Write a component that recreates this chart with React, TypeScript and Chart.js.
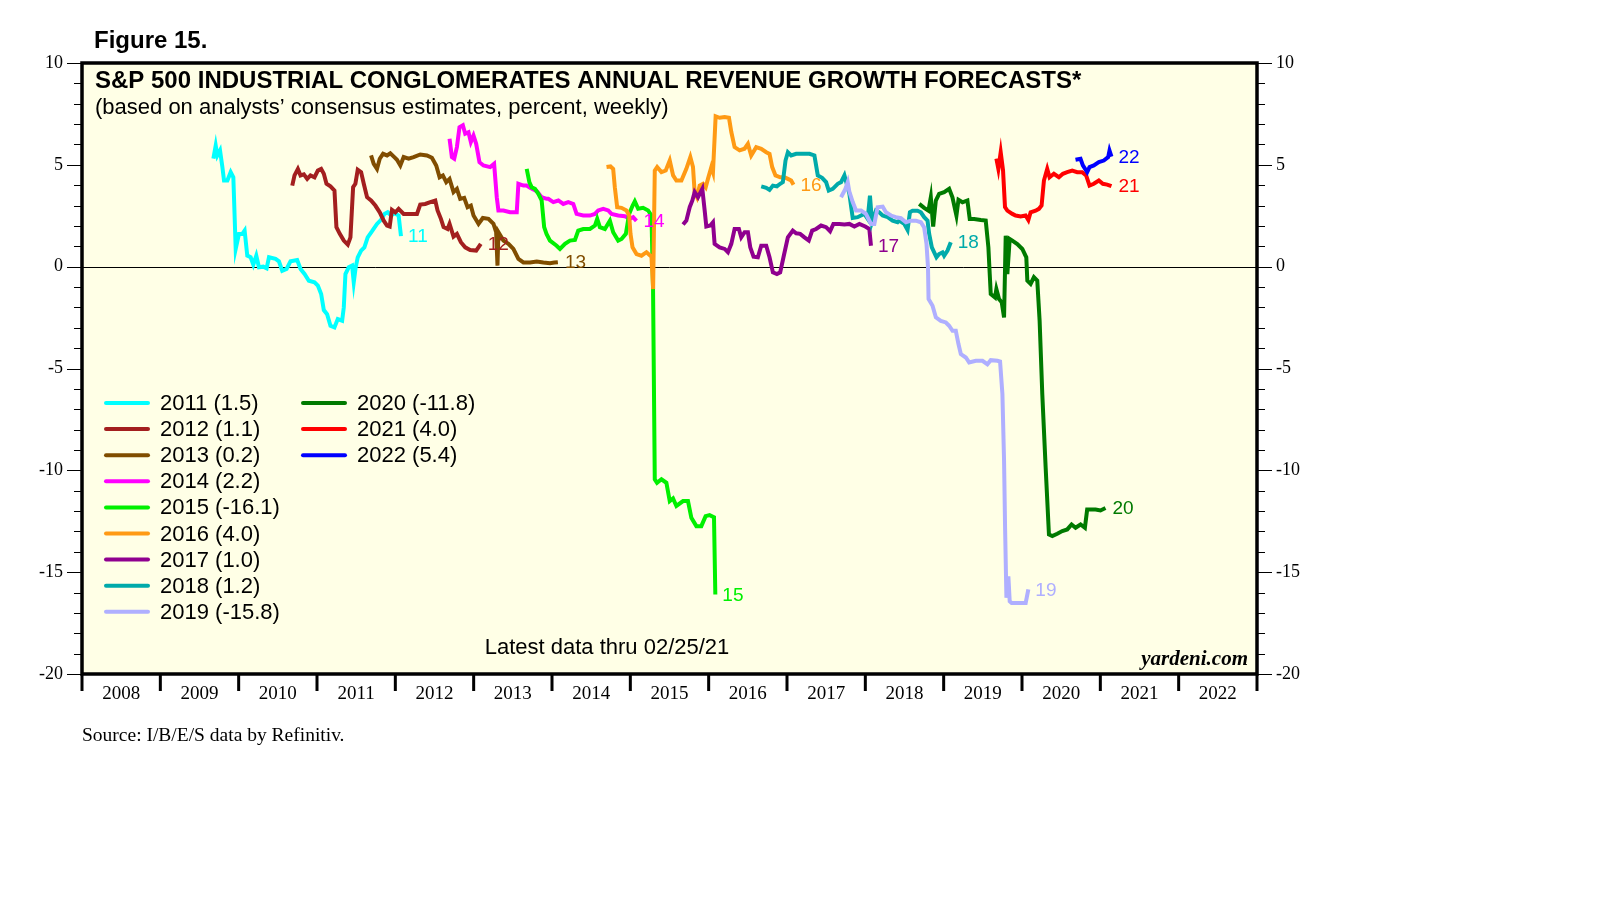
import React, { useRef, useEffect } from 'react';
import { Chart, registerables, Plugin } from 'chart.js';

Chart.register(...registerables);

// Axis labels
const years = [2008, 2009, 2010, 2011, 2012, 2013, 2014, 2015, 2016, 2017, 2018, 2019, 2020, 2021, 2022];
const yMajorTicks = [10, 5, 0, -5, -10, -15, -20];

// Forecast series (x = fractional year, y = percent)
const seriesYears = ['2011', '2012', '2013', '2014', '2015', '2016', '2017', '2018', '2019', '2020', '2021', '2022'];
const endLabels = ['11', '12', '13', '14', '15', '16', '17', '18', '19', '20', '21', '22'];
const latestValues = [1.5, 1.1, 0.2, 2.2, -16.1, 4.0, 1.0, 1.2, -15.8, -11.8, 4.0, 5.4];
const seriesColors = [
  '#00FFFF', '#A31F1F', '#804D00', '#FF00FF', '#00F000', '#FF9A14',
  '#8F008F', '#00AAAA', '#AFAFFF', '#007A00', '#FF0000', '#0000FF',
];

const fc2011: [number, number][] = [
  [2009.677, 5.30], [2009.707, 5.95], [2009.728, 5.46], [2009.762, 5.71], [2009.792, 4.89], [2009.813, 4.23],
  [2009.856, 4.23], [2009.898, 4.64], [2009.932, 4.39], [2009.962, 0.87], [2010.004, 1.61], [2010.047, 1.61],
  [2010.076, 1.77], [2010.110, 0.54], [2010.153, 0.46], [2010.187, 0.10], [2010.225, 0.54], [2010.259, -0.03],
  [2010.314, 0.00], [2010.357, -0.08], [2010.387, 0.46], [2010.471, 0.38], [2010.514, 0.26], [2010.556, -0.20],
  [2010.612, -0.11], [2010.662, 0.26], [2010.747, 0.33], [2010.790, -0.11], [2010.841, -0.36], [2010.896, -0.69],
  [2010.968, -0.77], [2011.011, -0.93], [2011.053, -1.34], [2011.087, -2.13], [2011.129, -2.33], [2011.172, -2.90],
  [2011.223, -2.98], [2011.265, -2.57], [2011.321, -2.65], [2011.342, -2.00], [2011.363, -0.36], [2011.405, -0.03],
  [2011.448, 0.05], [2011.469, -0.77], [2011.494, -0.03], [2011.520, 0.46], [2011.563, 0.79], [2011.605, 0.95],
  [2011.647, 1.44], [2011.703, 1.74], [2011.766, 2.10], [2011.817, 2.30], [2011.860, 2.59], [2011.902, 2.67],
  [2011.945, 2.51], [2011.987, 2.62], [2012.042, 2.51], [2012.072, 1.50],
];

const fc2012: [number, number][] = [
  [2010.684, 3.98], [2010.713, 4.48], [2010.756, 4.80], [2010.790, 4.48], [2010.832, 4.53], [2010.875, 4.31],
  [2010.917, 4.48], [2010.968, 4.39], [2011.011, 4.72], [2011.053, 4.80], [2011.087, 4.56], [2011.121, 4.07],
  [2011.172, 3.94], [2011.223, 3.74], [2011.248, 1.94], [2011.291, 1.61], [2011.342, 1.28], [2011.393, 1.08],
  [2011.427, 1.44], [2011.461, 3.90], [2011.490, 4.07], [2011.520, 4.76], [2011.563, 4.64], [2011.597, 4.07],
  [2011.639, 3.41], [2011.690, 3.25], [2011.745, 3.00], [2011.801, 2.67], [2011.852, 2.26], [2011.894, 2.02],
  [2011.928, 1.97], [2011.957, 2.79], [2012.000, 2.67], [2012.042, 2.84], [2012.106, 2.59], [2012.191, 2.59],
  [2012.276, 2.59], [2012.318, 3.05], [2012.382, 3.08], [2012.446, 3.17], [2012.510, 3.25], [2012.539, 2.76],
  [2012.582, 2.35], [2012.616, 1.94], [2012.667, 1.85], [2012.692, 2.10], [2012.743, 1.48], [2012.786, 1.61],
  [2012.837, 1.20], [2012.892, 0.95], [2012.955, 0.82], [2013.032, 0.79], [2013.091, 1.12],
];

const fc2013: [number, number][] = [
  [2011.690, 5.46], [2011.724, 5.05], [2011.766, 4.80], [2011.801, 5.30], [2011.843, 5.54], [2011.894, 5.46],
  [2011.936, 5.57], [2011.987, 5.38], [2012.021, 5.25], [2012.064, 4.97], [2012.106, 5.38], [2012.170, 5.30],
  [2012.233, 5.38], [2012.318, 5.51], [2012.403, 5.46], [2012.467, 5.35], [2012.522, 4.97], [2012.565, 4.39],
  [2012.607, 4.48], [2012.650, 4.15], [2012.692, 4.31], [2012.743, 3.66], [2012.786, 3.82], [2012.828, 3.33],
  [2012.879, 3.38], [2012.922, 2.92], [2012.964, 3.00], [2012.998, 2.51], [2013.062, 2.10], [2013.117, 2.39],
  [2013.189, 2.35], [2013.253, 2.10], [2013.287, 1.69], [2013.304, 0.05], [2013.316, 1.69], [2013.380, 1.28],
  [2013.444, 1.12], [2013.507, 0.87], [2013.571, 0.38], [2013.635, 0.21], [2013.720, 0.21], [2013.805, 0.25],
  [2013.890, 0.20], [2013.975, 0.17], [2014.030, 0.20], [2014.075, 0.22],
];

const fc2014: [number, number][] = [
  [2012.692, 6.28], [2012.722, 5.38], [2012.752, 5.30], [2012.786, 5.87], [2012.819, 6.85], [2012.862, 6.94],
  [2012.892, 6.53], [2012.934, 6.60], [2012.964, 6.12], [2012.998, 6.44], [2013.032, 6.03], [2013.074, 5.13],
  [2013.125, 4.97], [2013.211, 4.89], [2013.261, 5.05], [2013.295, 3.41], [2013.316, 2.76], [2013.380, 2.76],
  [2013.465, 2.67], [2013.550, 2.67], [2013.571, 4.07], [2013.635, 3.98], [2013.677, 3.98], [2013.720, 3.87],
  [2013.805, 3.71], [2013.868, 3.41], [2013.932, 3.33], [2013.953, 3.33], [2014.017, 3.17], [2014.081, 3.25],
  [2014.144, 3.08], [2014.208, 3.17], [2014.272, 3.08], [2014.314, 2.59], [2014.399, 2.51], [2014.484, 2.51],
  [2014.548, 2.59], [2014.590, 2.76], [2014.654, 2.84], [2014.718, 2.76], [2014.760, 2.59], [2014.845, 2.51],
  [2014.930, 2.48], [2014.994, 2.35], [2015.036, 2.43], [2015.078, 2.25],
];

const fc2015: [number, number][] = [
  [2013.677, 4.80], [2013.711, 4.15], [2013.741, 3.90], [2013.783, 3.82], [2013.826, 3.58], [2013.868, 3.25],
  [2013.900, 1.94], [2013.930, 1.61], [2013.974, 1.28], [2014.059, 1.03], [2014.102, 0.87], [2014.166, 1.12],
  [2014.229, 1.28], [2014.293, 1.31], [2014.335, 1.77], [2014.399, 1.85], [2014.484, 1.85], [2014.548, 2.02],
  [2014.577, 2.35], [2014.611, 1.94], [2014.675, 1.85], [2014.739, 2.26], [2014.781, 1.69], [2014.845, 1.28],
  [2014.888, 1.36], [2014.943, 1.61], [2014.985, 2.59], [2015.028, 2.99], [2015.057, 3.21], [2015.100, 2.84],
  [2015.163, 2.89], [2015.227, 2.76], [2015.270, 2.51], [2015.290, -1.10], [2015.312, -10.44], [2015.341, -10.61],
  [2015.397, -10.44], [2015.460, -10.61], [2015.503, -11.51], [2015.545, -11.38], [2015.588, -11.75], [2015.673, -11.51],
  [2015.736, -11.51], [2015.779, -12.33], [2015.843, -12.74], [2015.906, -12.74], [2015.961, -12.25], [2016.012, -12.20],
  [2016.068, -12.30], [2016.085, -16.10],
];

const fc2016: [number, number][] = [
  [2014.696, 4.89], [2014.747, 4.92], [2014.781, 4.80], [2014.802, 3.90], [2014.832, 2.92], [2014.887, 2.89],
  [2014.951, 2.76], [2014.985, 2.51], [2015.002, 1.61], [2015.028, 0.95], [2015.079, 0.62], [2015.142, 0.54],
  [2015.206, 0.71], [2015.270, 0.49], [2015.291, -1.10], [2015.312, 4.72], [2015.342, 4.89], [2015.397, 4.64],
  [2015.452, 4.72], [2015.503, 5.21], [2015.546, 4.48], [2015.588, 4.23], [2015.652, 4.23], [2015.715, 4.80],
  [2015.766, 5.38], [2015.800, 4.89], [2015.821, 3.66], [2015.851, 3.41], [2015.885, 3.98], [2015.928, 4.07],
  [2015.962, 3.90], [2015.991, 4.31], [2016.034, 4.89], [2016.055, 4.64], [2016.089, 7.38], [2016.140, 7.31],
  [2016.204, 7.35], [2016.259, 7.31], [2016.289, 6.61], [2016.331, 5.87], [2016.395, 5.71], [2016.458, 5.79],
  [2016.501, 6.03], [2016.543, 5.46], [2016.607, 5.87], [2016.671, 5.79], [2016.735, 5.62], [2016.777, 5.54],
  [2016.811, 4.89], [2016.853, 4.48], [2016.913, 4.39], [2016.968, 4.39], [2017.011, 4.31], [2017.053, 4.23],
  [2017.083, 4.02],
];

const fc2017: [number, number][] = [
  [2015.673, 2.07], [2015.715, 2.26], [2015.758, 2.92], [2015.792, 3.25], [2015.821, 3.66], [2015.864, 3.41],
  [2015.919, 3.82], [2015.949, 2.76], [2015.970, 1.97], [2016.021, 2.02], [2016.055, 2.18], [2016.076, 1.12],
  [2016.140, 0.95], [2016.204, 0.87], [2016.246, 0.71], [2016.289, 1.12], [2016.331, 1.85], [2016.386, 1.85],
  [2016.416, 1.44], [2016.459, 1.69], [2016.501, 1.69], [2016.531, 0.95], [2016.573, 0.49], [2016.628, 0.46],
  [2016.671, 1.03], [2016.735, 1.03], [2016.777, 0.46], [2016.820, -0.28], [2016.871, -0.36], [2016.913, -0.28],
  [2016.955, 0.46], [2017.011, 1.44], [2017.074, 1.77], [2017.117, 1.64], [2017.168, 1.61], [2017.223, 1.44],
  [2017.278, 1.28], [2017.321, 1.77], [2017.372, 1.85], [2017.435, 2.02], [2017.499, 1.94], [2017.550, 1.74],
  [2017.592, 2.10], [2017.669, 2.10], [2017.733, 2.07], [2017.796, 2.10], [2017.860, 1.97], [2017.924, 2.10],
  [2017.999, 1.97], [2018.051, 1.85], [2018.072, 1.03],
];

const fc2018: [number, number][] = [
  [2016.671, 3.94], [2016.735, 3.87], [2016.777, 3.77], [2016.820, 3.98], [2016.871, 3.94], [2016.913, 4.07],
  [2016.947, 4.15], [2016.981, 5.21], [2017.011, 5.62], [2017.053, 5.46], [2017.117, 5.54], [2017.202, 5.54],
  [2017.287, 5.54], [2017.350, 5.46], [2017.393, 4.48], [2017.448, 4.36], [2017.499, 4.15], [2017.533, 3.74],
  [2017.584, 3.82], [2017.648, 4.07], [2017.690, 4.15], [2017.733, 4.48], [2017.762, 4.07], [2017.796, 3.58],
  [2017.839, 2.39], [2017.902, 2.43], [2017.945, 2.51], [2017.987, 2.59], [2018.030, 2.35], [2018.059, 3.49],
  [2018.085, 2.18], [2018.136, 2.76], [2018.178, 2.67], [2018.221, 2.51], [2018.285, 2.43], [2018.348, 2.26],
  [2018.412, 2.18], [2018.433, 2.26], [2018.496, 2.10], [2018.539, 1.80], [2018.569, 2.67], [2018.603, 2.75],
  [2018.666, 2.75], [2018.709, 2.67], [2018.751, 2.43], [2018.794, 2.26], [2018.815, 1.61], [2018.849, 0.95],
  [2018.879, 0.70], [2018.908, 0.46], [2018.942, 0.62], [2018.985, 0.70], [2019.006, 0.54], [2019.049, 0.79],
  [2019.091, 1.20],
];

const fc2019: [number, number][] = [
  [2017.690, 3.41], [2017.745, 3.82], [2017.775, 4.15], [2017.796, 3.69], [2017.839, 3.17], [2017.881, 2.76],
  [2017.945, 2.76], [2018.008, 2.59], [2018.072, 2.10], [2018.115, 2.10], [2018.157, 2.92], [2018.221, 2.95],
  [2018.263, 2.67], [2018.327, 2.51], [2018.390, 2.43], [2018.454, 2.38], [2018.518, 2.18], [2018.582, 2.26],
  [2018.645, 2.26], [2018.709, 2.18], [2018.751, 1.93], [2018.781, 1.11], [2018.800, -0.03], [2018.807, -1.59],
  [2018.858, -1.92], [2018.900, -2.49], [2018.964, -2.66], [2019.028, -2.74], [2019.070, -2.90], [2019.113, -3.15],
  [2019.155, -3.15], [2019.189, -3.80], [2019.219, -4.29], [2019.283, -4.46], [2019.325, -4.70], [2019.410, -4.62],
  [2019.495, -4.62], [2019.558, -4.79], [2019.601, -4.59], [2019.686, -4.62], [2019.720, -4.66], [2019.750, -6.26],
  [2019.771, -9.54], [2019.784, -12.82], [2019.801, -16.26], [2019.826, -15.20], [2019.843, -16.43], [2019.868, -16.51],
  [2019.941, -16.51], [2020.004, -16.51], [2020.047, -16.51], [2020.081, -15.85],
];

const fc2020: [number, number][] = [
  [2018.688, 3.08], [2018.751, 2.89], [2018.806, 2.75], [2018.836, 3.41], [2018.866, 1.97], [2018.900, 3.25],
  [2018.942, 3.57], [2019.006, 3.66], [2019.070, 3.82], [2019.112, 3.41], [2019.163, 2.51], [2019.189, 3.28],
  [2019.240, 3.16], [2019.303, 3.25], [2019.333, 2.34], [2019.389, 2.34], [2019.474, 2.29], [2019.537, 2.26],
  [2019.571, 0.95], [2019.588, -0.36], [2019.601, -1.34], [2019.656, -1.51], [2019.673, -1.10], [2019.707, -1.59],
  [2019.741, -1.75], [2019.771, -2.49], [2019.792, 1.52], [2019.813, -0.36], [2019.843, 1.36], [2019.877, 1.28],
  [2019.940, 1.11], [2020.004, 0.87], [2020.055, 0.46], [2020.068, -0.69], [2020.110, -0.85], [2020.152, -0.52],
  [2020.195, -0.69], [2020.225, -2.66], [2020.259, -6.26], [2020.302, -9.87], [2020.344, -13.15], [2020.387, -13.23],
  [2020.450, -13.11], [2020.514, -12.98], [2020.578, -12.90], [2020.633, -12.66], [2020.684, -12.82], [2020.748, -12.66],
  [2020.803, -12.82], [2020.832, -11.92], [2020.875, -11.92], [2020.939, -11.92], [2021.002, -11.97], [2021.066, -11.85],
];

const fc2021: [number, number][] = [
  [2019.673, 5.30], [2019.698, 4.80], [2019.728, 5.62], [2019.758, 4.72], [2019.783, 2.92], [2019.813, 2.75],
  [2019.877, 2.59], [2019.919, 2.51], [2019.983, 2.46], [2020.046, 2.51], [2020.081, 2.29], [2020.110, 2.67],
  [2020.174, 2.75], [2020.216, 2.84], [2020.250, 3.00], [2020.280, 4.23], [2020.322, 4.80], [2020.352, 4.39],
  [2020.407, 4.56], [2020.471, 4.39], [2020.522, 4.56], [2020.577, 4.64], [2020.641, 4.72], [2020.705, 4.64],
  [2020.768, 4.64], [2020.819, 4.48], [2020.862, 3.98], [2020.917, 4.07], [2020.981, 4.23], [2021.032, 4.07],
  [2021.087, 4.03], [2021.142, 3.95],
];

const fc2022: [number, number][] = [
  [2020.683, 5.25], [2020.747, 5.30], [2020.777, 4.97], [2020.832, 4.64], [2020.862, 4.89], [2020.917, 4.97],
  [2020.981, 5.13], [2021.044, 5.21], [2021.100, 5.38], [2021.117, 5.70], [2021.142, 5.40],
];

const allSeries = [fc2011, fc2012, fc2013, fc2014, fc2015, fc2016, fc2017, fc2018, fc2019, fc2020, fc2021, fc2022];

const SANS = '"Liberation Sans", Arial, sans-serif';
const SERIF = '"Liberation Serif", "Times New Roman", serif';

const yardeniDecor: Plugin<'line'> = {
  id: 'yardeniDecor',
  beforeDraw(chart) {
    const { ctx, chartArea: a } = chart;
    ctx.save();
    ctx.fillStyle = '#FFFFE6';
    ctx.fillRect(a.left, a.top, a.right - a.left, a.bottom - a.top);
    const y0 = Math.round(chart.scales.y.getPixelForValue(0)) + 0.5;
    ctx.strokeStyle = '#000';
    ctx.lineWidth = 1;
    ctx.beginPath();
    ctx.moveTo(a.left, y0);
    ctx.lineTo(a.right, y0);
    ctx.stroke();
    ctx.restore();
  },
  afterDatasetsDraw(chart) {
    const { ctx } = chart;
    ctx.save();
    ctx.font = `19px ${SANS}`;
    ctx.textAlign = 'left';
    ctx.textBaseline = 'middle';
    chart.data.datasets.forEach((ds, i) => {
      const pts = chart.getDatasetMeta(i).data;
      const last = pts[pts.length - 1];
      ctx.fillStyle = ds.borderColor as string;
      ctx.fillText(endLabels[i], last.x + 7, last.y + 1);
    });
    ctx.restore();
  },
  afterDraw(chart) {
    const { ctx, chartArea: a } = chart;
    const xs = chart.scales.x;
    const ys = chart.scales.y;
    ctx.save();

    // frame
    ctx.strokeStyle = '#000';
    ctx.lineWidth = 3.5;
    ctx.strokeRect(a.left, a.top, a.right - a.left, a.bottom - a.top);

    // year ticks below the axis
    ctx.lineWidth = 3;
    ctx.beginPath();
    for (let yr = years[0]; yr <= years[years.length - 1] + 1; yr++) {
      const px = xs.getPixelForValue(yr);
      ctx.moveTo(px, a.bottom);
      ctx.lineTo(px, a.bottom + 17);
    }
    ctx.stroke();

    // year labels centred in each year
    ctx.fillStyle = '#000';
    ctx.font = `19px ${SERIF}`;
    ctx.textAlign = 'center';
    ctx.textBaseline = 'middle';
    years.forEach((yr) => {
      ctx.fillText(String(yr), xs.getPixelForValue(yr + 0.5), a.bottom + 20);
    });

    // y ticks on both sides
    ctx.lineWidth = 1;
    ctx.beginPath();
    for (let v = ys.min; v <= ys.max; v++) {
      const py = Math.round(ys.getPixelForValue(v)) + 0.5;
      const len = v % 5 === 0 ? 15 : 8;
      ctx.moveTo(a.left - len, py);
      ctx.lineTo(a.left, py);
      ctx.moveTo(a.right, py);
      ctx.lineTo(a.right + len, py);
    }
    ctx.stroke();

    ctx.font = `18px ${SERIF}`;
    yMajorTicks.forEach((v) => {
      const py = ys.getPixelForValue(v);
      ctx.textAlign = 'right';
      ctx.fillText(String(v), a.left - 19, py);
      ctx.textAlign = 'left';
      ctx.fillText(String(v), a.right + 19, py);
    });

    // titles
    ctx.textBaseline = 'alphabetic';
    ctx.textAlign = 'left';
    ctx.font = `bold 24px ${SANS}`;
    ctx.fillText('Figure 15.', 94, 48);
    ctx.font = `bold 24px ${SANS}`;
    ctx.fillText('S&P 500 INDUSTRIAL CONGLOMERATES ANNUAL REVENUE GROWTH FORECASTS*', 95, 88);
    ctx.font = `22px ${SANS}`;
    ctx.fillText('(based on analysts\u2019 consensus estimates, percent, weekly)', 95, 114);

    // legend
    ctx.font = `22px ${SANS}`;
    ctx.textBaseline = 'middle';
    seriesYears.forEach((yr, i) => {
      const col = i < 9 ? 0 : 1;
      const row = i < 9 ? i : i - 9;
      const sx = col === 0 ? 106 : 303;
      const sy = 403 + row * 26.1;
      ctx.strokeStyle = seriesColors[i];
      ctx.lineWidth = 4;
      ctx.lineCap = 'round';
      ctx.beginPath();
      ctx.moveTo(sx, sy);
      ctx.lineTo(sx + 42, sy);
      ctx.stroke();
      ctx.fillStyle = '#000';
      ctx.fillText(`${yr} (${latestValues[i].toFixed(1)})`, sx + 54, sy + 1);
    });

    // footnotes
    ctx.textBaseline = 'alphabetic';
    ctx.textAlign = 'center';
    ctx.font = `22px ${SANS}`;
    ctx.fillText('Latest data thru 02/25/21', 607, 654);
    ctx.textAlign = 'right';
    ctx.font = `italic bold 21px ${SERIF}`;
    ctx.fillText('yardeni.com', a.right - 9, 665);
    ctx.textAlign = 'left';
    ctx.font = `19.5px ${SERIF}`;
    ctx.fillText('Source: I/B/E/S data by Refinitiv.', 82, 741);

    ctx.restore();
  },
};

const App: React.FC = () => {
  const chartRef = useRef<HTMLCanvasElement>(null);
  const chartInstance = useRef<Chart | null>(null);

  useEffect(() => {
    document.body.style.margin = '0';
    if (!chartRef.current) return;
    if (chartInstance.current) chartInstance.current.destroy();
    const ctx = chartRef.current.getContext('2d');
    if (!ctx) return;

    chartInstance.current = new Chart(ctx, {
      type: 'line',
      data: {
        datasets: allSeries.map((s, i) => ({
          label: seriesYears[i],
          data: s.map(([x, y]) => ({ x, y })),
          borderColor: seriesColors[i],
          backgroundColor: seriesColors[i],
          borderWidth: 4,
          pointRadius: 0,
          tension: 0,
          fill: false,
          order: allSeries.length - i,
        })),
      },
      options: {
        responsive: true,
        maintainAspectRatio: false,
        animation: false,
        layout: { padding: { left: 82, top: 63, right: 353, bottom: 236 } },
        plugins: {
          legend: { display: false },
          tooltip: { enabled: false },
          title: { display: false },
        },
        scales: {
          x: { type: 'linear', min: 2008, max: 2023, display: false },
          y: { type: 'linear', min: -20, max: 10, display: false },
        },
      },
      plugins: [yardeniDecor],
    });

    return () => {
      if (chartInstance.current) {
        chartInstance.current.destroy();
        chartInstance.current = null;
      }
    };
  }, []);

  return (
    <div style={{ width: '1610px', height: '910px', position: 'relative', background: '#fff' }}>
      <canvas ref={chartRef} />
    </div>
  );
};

export default App;
